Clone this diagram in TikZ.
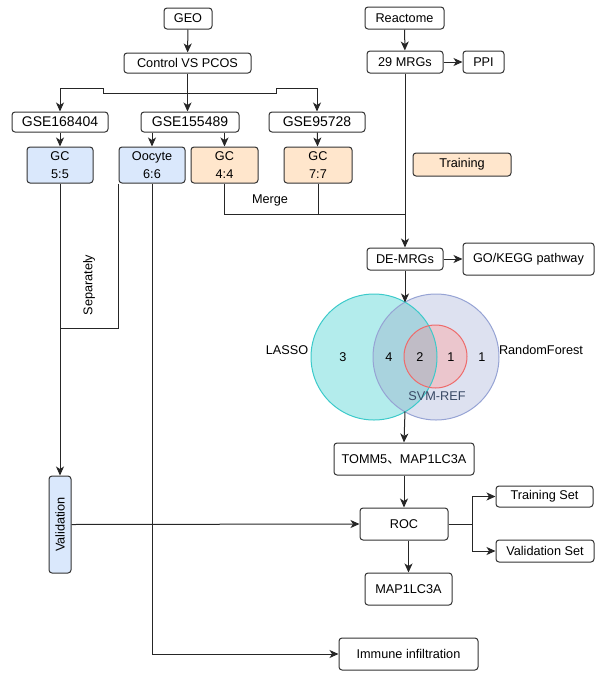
\documentclass[tikz,border=0pt]{standalone}
\usepackage{fontspec}
\setmainfont{Liberation Sans}
\newfontfamily\cjk{Noto Sans CJK SC}
\usetikzlibrary{arrows.meta}
\definecolor{bluefill}{HTML}{DAE8FC}
\definecolor{orangefill}{HTML}{FFE6CC}
\definecolor{edge}{HTML}{333333}
\definecolor{lassofill}{HTML}{B3ECEC}
\definecolor{lassoline}{HTML}{3CCACA}
\definecolor{rffill}{HTML}{DDE1F0}
\definecolor{rfline}{HTML}{96A3D4}
\definecolor{ovfill}{HTML}{A9D3DE}
\definecolor{svmfill}{HTML}{EBC6CD}
\definecolor{svmline}{HTML}{EE6B6B}
\definecolor{svmov}{HTML}{C0BCC6}
\definecolor{svmtext}{HTML}{3A4A66}
\tikzset{
  box/.style={draw=edge, line width=1pt, rounded corners=3pt, inner sep=0pt,
    align=center, font=\fontsize{12.7}{18}\selectfont},
  gsebox/.style={box, font=\fontsize{14}{17}\selectfont},
  bluebox/.style={box, fill=bluefill},
  orangebox/.style={box, fill=orangefill},
  conn/.style={line width=1pt, draw=black!85},
  arrow/.style={conn, -{Stealth[length=9pt,width=8pt,inset=2.5pt]}},
  lbl/.style={inner sep=0pt, font=\fontsize{12.7}{15}\selectfont},
}
\begin{document}
\begin{tikzpicture}[x=1pt,y=-1pt]
\useasboundingbox (0,0) rectangle (596,673);

% Venn diagram
\coordinate (lc) at (374,357);
\coordinate (rc) at (436,357);
\coordinate (sc) at (435.5,356.5);
\fill[rffill] (rc) circle (63);
\fill[lassofill] (lc) circle (63);
\begin{scope}
  \clip (lc) circle (63);
  \fill[ovfill] (rc) circle (63);
\end{scope}
\fill[svmfill] (sc) circle (31.5);
\begin{scope}
  \clip (lc) circle (63);
  \fill[svmov] (sc) circle (31.5);
\end{scope}
\draw[rfline, line width=1pt] (rc) circle (63);
\draw[lassoline, line width=1pt] (lc) circle (63);
\draw[svmline, line width=1pt] (sc) circle (31.5);
\coordinate (vtop) at (405,302.5);
\coordinate (vbot) at (405,411.5);

\node[lbl] (n3) at (343,357) {3};
\node[lbl] (n4) at (389,357) {4};
\node[lbl] (n2) at (420,357) {2};
\node[lbl] (n1a) at (451,357) {1};
\node[lbl] (n1b) at (482,357) {1};
\node[lbl] (lasso) at (287,350) {LASSO};
\node[lbl] (rf) at (541,350) {RandomForest};
\node[lbl, text=svmtext] (svm) at (437,396) {SVM-REF};

% boxes
\node[box, minimum width=48pt, minimum height=21pt] (geo) at (188,18.5) {GEO};
\node[box, minimum width=127pt, minimum height=20pt] (ctrl) at (187.5,63) {Control VS PCOS};
\node[gsebox, minimum width=96pt, minimum height=20pt] (g168) at (60,122) {GSE168404};
\node[gsebox, minimum width=98pt, minimum height=20pt] (g155) at (190,122) {GSE155489};
\node[gsebox, minimum width=96pt, minimum height=20pt] (g957) at (317,122) {GSE95728};
\node[bluebox, minimum width=66pt, minimum height=36pt] (gc55) at (60,165) {GC\\5:5};
\node[bluebox, minimum width=66pt, minimum height=36pt] (oocyte) at (152,165) {Oocyte\\6:6};
\node[orangebox, minimum width=67pt, minimum height=36pt] (gc44) at (224.5,165) {GC\\4:4};
\node[orangebox, minimum width=68pt, minimum height=36pt] (gc77) at (318,165) {GC\\7:7};
\node[box, minimum width=79pt, minimum height=22pt] (reactome) at (404.5,18) {Reactome};
\node[box, minimum width=76pt, minimum height=22pt] (mrg) at (405,62) {29 MRGs};
\node[box, minimum width=41pt, minimum height=22pt] (ppi) at (483.5,62) {PPI};
\node[orangebox, minimum width=98pt, minimum height=23pt] (training) at (462,164.5) {Training};
\node[box, minimum width=76pt, minimum height=22pt] (demrg) at (405,259) {DE-MRGs};
\node[box, minimum width=131pt, minimum height=32pt] (gokegg) at (528.5,259) {GO/KEGG pathway};
\node[box, minimum width=140pt, minimum height=32pt] (tomm) at (404,459) {TOMM5{\cjk 、}MAP1LC3A};
\node[box, minimum width=88pt, minimum height=32pt] (roc) at (404,524) {ROC};
\node[box, minimum width=87pt, minimum height=32pt] (map) at (408.5,589) {MAP1LC3A};
\node[box, minimum width=97pt, minimum height=21pt] (tset) at (544.5,496.5) {Training Set};
\node[box, minimum width=98pt, minimum height=22pt] (vset) at (545,551) {Validation Set};
\node[box, minimum width=139pt, minimum height=32pt] (immune) at (408.5,654) {Immune infiltration};
\node[bluebox, minimum width=22pt, minimum height=97pt] (valid) at (60,524.5) {};
\node[lbl, rotate=90] (validtxt) at (valid.center) {Validation};

% labels on connectors
\node[lbl] (merge) at (270,200) {Merge};
\node[lbl, rotate=90] (sep) at (89,285) {Separately};

% connectors
\draw[arrow] (geo) -- (ctrl);
\draw[arrow] (ctrl.south) -- (ctrl.south |- g155.north);
\coordinate (bj) at (188,93);
\draw[arrow] (bj) -- (103,93) -- (103,88) -- (g168.north |- 0,88) -- (g168.north);
\draw[arrow] (bj) -- (276,93) -- (276,88) -- (g957.north |- 0,88) -- (g957.north);
\draw[arrow] (g168) -- (gc55);
\draw[arrow] (oocyte.north |- g155.south) -- (oocyte.north);
\draw[arrow] (gc44.north |- g155.south) -- (gc44.north);
\draw[arrow] (g957) -- (gc77);
\draw[arrow] (reactome) -- (mrg);
\draw[arrow] (mrg) -- (ppi);
\draw[arrow] (mrg.south) -- (demrg.north);
\coordinate (mj) at (405,214);
\draw[conn] (gc44.south) |- (mj);
\draw[conn] (gc77.south) -- (gc77.south |- mj);
\draw[arrow] (demrg) -- (gokegg);
\draw[arrow] (demrg.south) -- (vtop);
\draw[arrow] (vbot) -- (tomm.north);
\draw[arrow] (tomm) -- (roc);
\draw[arrow] (map.north |- roc.south) -- (map.north);
\draw[arrow] (roc.east) -- ++(24,0) |- (tset.west);
\draw[arrow] (roc.east) -- ++(24,0) |- (vset.west);
\draw[arrow] (gc55) -- (valid);
\draw[conn] (oocyte.south west) -- (oocyte.south west |- 0,328) -- (gc55.south |- 0,328);
\draw[arrow] (valid.east) -- (roc.west);
\draw[arrow] (oocyte.south) |- (immune.west);
\end{tikzpicture}
\end{document}
